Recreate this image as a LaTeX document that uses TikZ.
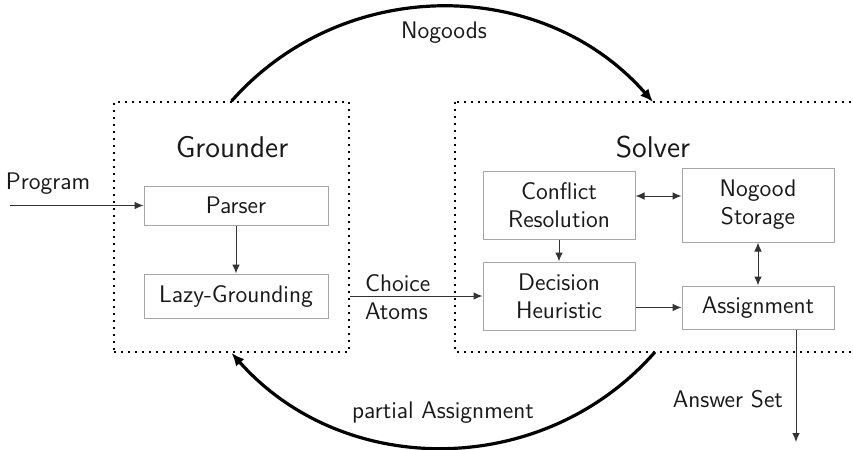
\documentclass[tikz,border=0pt]{standalone}
\usetikzlibrary{arrows.meta}
\begin{document}
\begin{tikzpicture}[x=0.5pt,y=0.5pt,
  every node/.style={font=\sffamily\fontsize{12}{14}\selectfont, text=black!90},
  inbox/.style={draw=black!35, line width=0.5pt, inner sep=0pt, align=center},
  dotbox/.style={draw=black, line width=0.9pt, dash pattern=on 0.9pt off 2.6pt, inner sep=0pt},
  thin/.style={draw=black!80, line width=0.5pt, -{Latex[length=4.5pt,width=3.8pt]}},
  thinboth/.style={draw=black!80, line width=0.5pt, {Latex[length=4.5pt,width=3.8pt]}-{Latex[length=4.5pt,width=3.8pt]}},
  thickarc/.style={draw=black, line width=1.6pt, -{Latex[length=6.5pt,width=5.5pt]}},
  biglabel/.style={font=\sffamily\fontsize{15}{18}\selectfont}
]
\useasboundingbox (0,0) rectangle (853,-450);
\clip (0,0) rectangle (853,-450);

% dotted containers
\node[dotbox, minimum width=117.5pt, minimum height=125pt] (grounder) at (231.5,-227) {};
\draw[dotbox] (455,-102) rectangle (900,-352);
\coordinate (sTop) at (653,-102);
\coordinate (sBot) at (655,-352);

\node[biglabel] (glabel) at (232,-147) {Grounder};
\node[biglabel] (slabel) at (653,-147) {Solver};

% inner boxes
\node[inbox, minimum width=92pt, minimum height=19.5pt] (parser) at (236,-205.5) {Parser};
\node[inbox, minimum width=92pt, minimum height=22pt] (lazy) at (236,-296) {Lazy-Grounding};
\node[inbox, minimum width=76pt, minimum height=34pt] (conflict) at (559,-205) {Conflict\\Resolution};
\node[inbox, minimum width=76pt, minimum height=37pt] (nogood) at (758,-205) {Nogood\\Storage};
\node[inbox, minimum width=76pt, minimum height=34pt] (decision) at (559,-296) {Decision\\Heuristic};
\node[inbox, minimum width=76pt, minimum height=21.5pt] (assign) at (758,-307.5) {Assignment};

% program input
\coordinate (progStart) at (10,-205.5);
\node (proglabel) at (48,-184) {Program};
\draw[thin] (progStart) -- (parser.west);

\draw[thin] (parser.south) -- (lazy.north);
\draw[thinboth] ([yshift=4.5pt]conflict.east) -- ([yshift=4.5pt]nogood.west);
\draw[thin] (conflict.south) -- (decision.north);
\draw[thinboth] (nogood.south) -- (assign.north);
\draw[thin] (decision.east |- assign.west) -- (assign.west);

% choice atoms
\draw[thin] (grounder.east |- decision.west) -- (decision.west);
\node[anchor=west] (choice) at (358,-283) {Choice};
\node[anchor=west] (atoms) at (358,-311) {Atoms};

% answer set
\coordinate (ansEnd) at (796,-442);
\draw[thin] ([xshift=19pt]assign.south) -- (ansEnd);
\node[anchor=east] (anslabel) at (790,-399) {Answer Set};

% big arcs
\draw[thickarc] (grounder.north) to[bend left=48.6, looseness=1.02] (sTop);
\node (nogoods) at (444,-33) {Nogoods};
\draw[thickarc] (sBot) to[bend left=48.6, looseness=1.02] (grounder.south);
\node (partial) at (443,-413) {partial Assignment};
\end{tikzpicture}
\end{document}
